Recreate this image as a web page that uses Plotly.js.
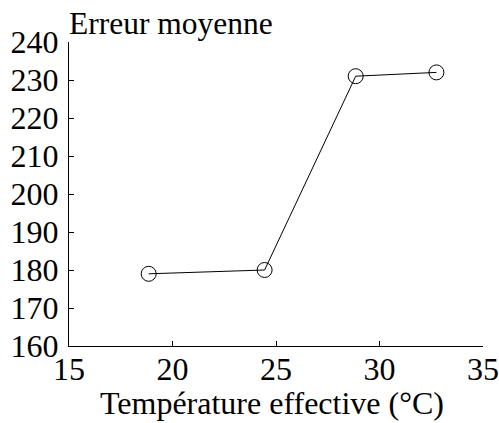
<!DOCTYPE html>
<html><head><meta charset="utf-8">
<script src="https://cdn.plot.ly/plotly-3.0.1.min.js"></script>
<style>html,body{margin:0;padding:0;background:#fff}</style>
</head><body>
<div id="chart" style="width:499px;height:423px"></div>
<script>
const temperature = [18.85, 24.45, 28.85, 32.75];
const erreurMoyenne = [179, 180, 231, 232];
const xTicks = [15, 20, 25, 30, 35];
const yTicks = [160, 170, 180, 190, 200, 210, 220, 230, 240];

const fam = '"Liberation Serif", "Times New Roman", serif';
const tickFont = {family: fam, size: 32, color: '#000'};
const titleFont = {family: fam, size: 32, color: '#000'};
const topFont = {family: fam, size: 31.5, color: '#000'};

Plotly.newPlot('chart', [{
  x: temperature, y: erreurMoyenne, type: 'scatter', mode: 'lines+markers',
  line: {color: '#000', width: 1},
  marker: {symbol: 'circle-open', size: 15, color: '#000', line: {width: 1, color: '#000'}},
  cliponaxis: false
}], {
  width: 499, height: 423,
  margin: {l: 69, r: 16, t: 42, b: 77},
  paper_bgcolor: '#fff', plot_bgcolor: '#fff',
  font: tickFont,
  showlegend: false,
  xaxis: {range: [15, 35], tickvals: xTicks, ticktext: xTicks.map(String),
    ticks: 'inside', ticklen: 5, tickwidth: 1, tickcolor: '#000',
    showline: true, linecolor: '#000', linewidth: 1, showgrid: false, zeroline: false,
    tickfont: tickFont, ticklabelstandoff: -5, ticklabeloverflow: 'allow'},
  yaxis: {range: [160, 240], tickvals: yTicks, ticktext: yTicks.map(String),
    ticks: 'inside', ticklen: 5, tickwidth: 1, tickcolor: '#000',
    showline: true, linecolor: '#000', linewidth: 1, showgrid: false, zeroline: false,
    tickfont: tickFont, ticklabelstandoff: 3, ticklabeloverflow: 'allow'},
  annotations: [
    {text: 'Erreur moyenne', xref: 'paper', yref: 'paper', x: 0, y: 1,
     xanchor: 'left', yanchor: 'bottom', showarrow: false, font: topFont, xshift: -2, yshift: -1},
    {text: 'Température effective (°C)', xref: 'paper', yref: 'paper', x: 0.5, y: 0,
     xanchor: 'center', yanchor: 'middle', showarrow: false, font: titleFont, xshift: -4, yshift: -57}
  ]
}, {staticPlot: true, displayModeBar: false});
</script>
</body></html>
